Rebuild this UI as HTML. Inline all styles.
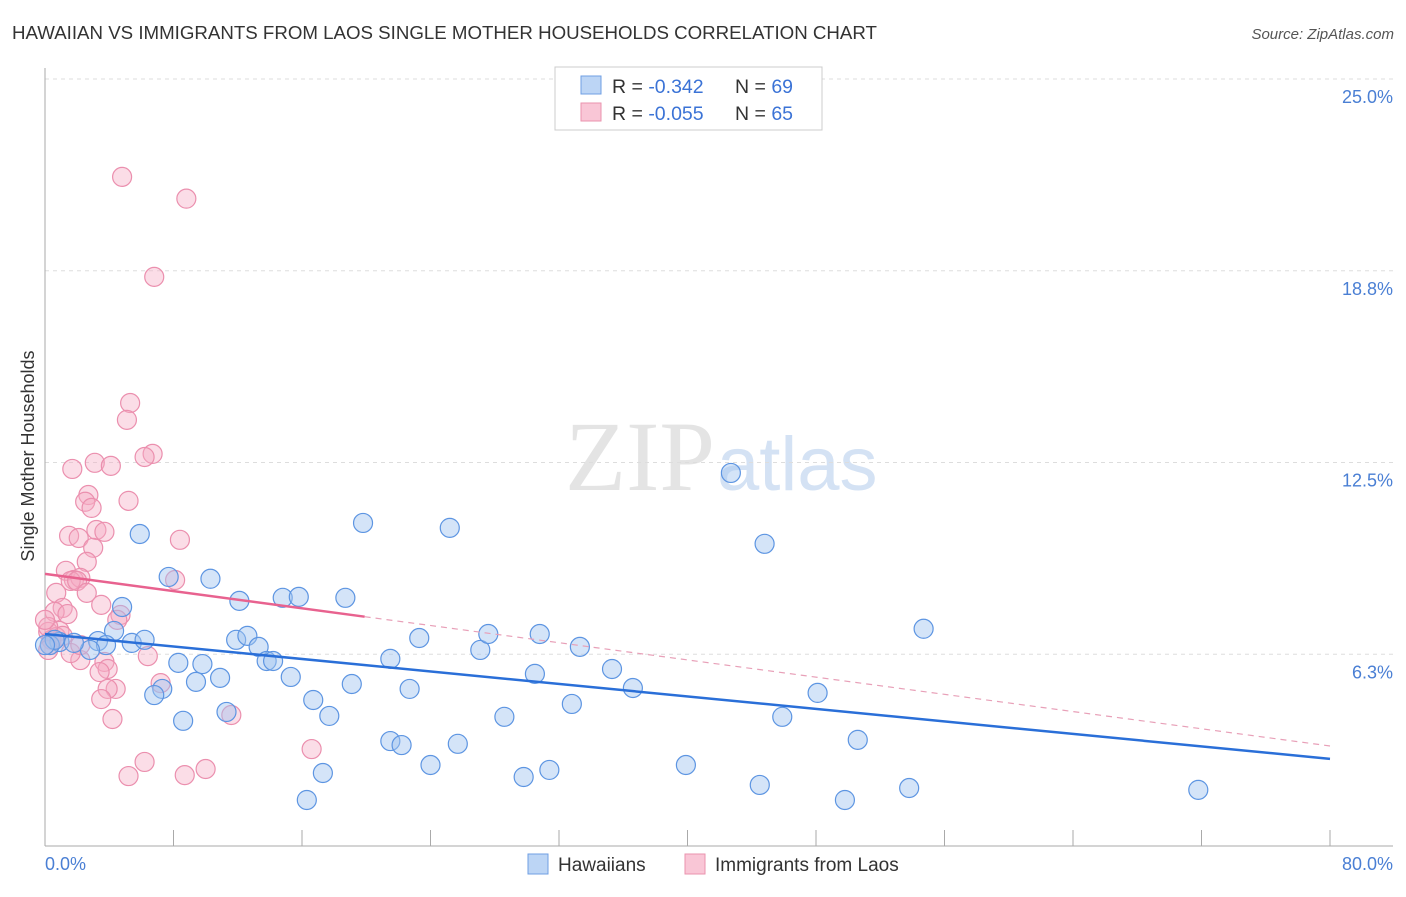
<!DOCTYPE html>
<html><head><meta charset="utf-8"><style>
body{margin:0;background:#fff;font-family:"Liberation Sans",sans-serif;}
</style></head><body>
<svg id="chart" width="1406" height="892" xmlns="http://www.w3.org/2000/svg">
<text x="12" y="39" font-size="18.7" fill="#333">HAWAIIAN VS IMMIGRANTS FROM LAOS SINGLE MOTHER HOUSEHOLDS CORRELATION CHART</text>
<text x="1394" y="39" font-size="15" fill="#555" font-style="italic" text-anchor="end">Source: ZipAtlas.com</text>
<text x="715" y="490" font-size="100" fill="#e4e4e4" font-family="Liberation Serif,serif" text-anchor="end">ZIP</text>
<text x="717" y="490" font-size="76" fill="#d4e2f4" text-anchor="start">atlas</text>
<g id="grid"></g><g id="axes"></g><g id="pink"></g><g id="blue"></g><g id="lines"></g>
<text transform="translate(34,456) rotate(-90)" font-size="18" fill="#333" text-anchor="middle">Single Mother Households</text>
<text x="45" y="870" font-size="18" fill="#4a7fd4">0.0%</text>
<text x="1393" y="870" font-size="18" fill="#4a7fd4" text-anchor="end">80.0%</text>
<g>
<rect x="555" y="67" width="267" height="63" fill="#fff" stroke="#ccc"/>
<rect x="581" y="76" width="20" height="18" fill="#bcd5f5" stroke="#6f9fe3"/>
<rect x="581" y="103" width="20" height="18" fill="#f9c6d6" stroke="#ea93ae"/>
<text x="612" y="93" font-size="19.5" fill="#333">R = <tspan fill="#3b73d6">-0.342</tspan></text>
<text x="735" y="93" font-size="19.5" fill="#333">N = <tspan fill="#3b73d6">69</tspan></text>
<text x="612" y="120" font-size="19.5" fill="#333">R = <tspan fill="#3b73d6">-0.055</tspan></text>
<text x="735" y="120" font-size="19.5" fill="#333">N = <tspan fill="#3b73d6">65</tspan></text>
</g>
<g>
<rect x="528" y="854" width="20" height="20" fill="#bcd5f5" stroke="#6f9fe3"/>
<text x="558" y="871" font-size="19" fill="#333">Hawaiians</text>
<rect x="685" y="854" width="20" height="20" fill="#f9c6d6" stroke="#ea93ae"/>
<text x="715" y="871" font-size="19" fill="#333">Immigrants from Laos</text>
</g>
</svg>
<script>
const yTicks=[6.25,12.5,18.75,25];
const yTickLabels=["6.3%","12.5%","18.8%","25.0%"];
const xTicks=[0,8,16,24,32,40,48,56,64,72,80];
const blueX=[5.9,7.7,10.3,4.8,4.3,3.3,5.4,6.2,3.8,2.8,0.9,0.3,0.6,1.8,8.3,9.8,9.4,10.9,7.3,6.8,8.6,11.3,12.1,11.9,12.6,13.3,13.8,14.2,14.8,15.8,15.3,16.7,17.7,17.3,16.3,18.7,19.8,19.1,21.5,22.2,21.5,23.3,22.7,24.0,25.2,25.7,27.1,27.6,28.6,29.8,30.5,30.8,31.4,32.8,33.3,35.3,36.6,39.9,42.7,44.5,44.8,45.9,48.1,49.8,50.6,53.8,54.7,71.8,0.0];
const blueY=[10.17,8.77,8.71,7.79,7.01,6.68,6.62,6.72,6.55,6.39,6.65,6.55,6.72,6.62,5.97,5.93,5.35,5.48,5.12,4.92,4.08,4.37,7.99,6.72,6.85,6.49,6.03,6.03,8.09,8.12,5.51,4.76,4.24,2.38,1.50,8.09,10.53,5.28,3.42,3.29,6.10,6.78,5.12,2.64,10.37,3.33,6.39,6.91,4.21,2.25,5.61,6.91,2.48,4.63,6.49,5.77,5.15,2.64,12.16,1.99,9.85,4.21,4.99,1.50,3.46,1.89,7.08,1.83,6.55];
const pinkX=[4.8,8.8,6.8,5.3,5.1,6.7,6.2,1.7,3.1,4.1,5.2,2.7,2.5,2.9,1.5,2.1,3.2,3.7,3.0,8.4,2.6,1.3,1.8,2.2,1.6,2.0,0.7,2.6,8.1,3.5,1.1,0.6,1.4,4.7,4.5,0.9,0.2,0.7,0.4,1.1,0.3,6.4,2.2,3.7,3.9,3.4,7.2,4.4,3.9,3.5,4.2,11.6,16.6,6.2,5.2,8.7,10.0,0.2,0.0,0.2,1.6,2.2];
const pinkY=[21.81,21.10,18.55,14.44,13.89,12.78,12.68,12.29,12.49,12.39,11.25,11.44,11.22,11.02,10.11,10.04,10.30,10.24,9.72,9.98,9.26,8.97,8.67,8.74,8.64,8.64,8.25,8.25,8.67,7.86,7.76,7.63,7.56,7.53,7.37,7.01,6.98,6.81,6.72,6.85,6.55,6.19,6.06,6.00,5.77,5.67,5.31,5.12,5.12,4.79,4.14,4.27,3.16,2.74,2.28,2.31,2.51,7.14,7.37,6.39,6.29,6.55];
const blueTrend=[6.91,2.84];
const pinkTrend=[8.87,3.26];
const pinkSolidEnd=19.9;
const NS="http://www.w3.org/2000/svg";
const X=v=>45+v/80*1285;
const Y=v=>846-v/25*767;
function mk(tag,parent,attrs){const e=document.createElementNS(NS,tag);for(const k in attrs)e.setAttribute(k,attrs[k]);document.getElementById(parent).appendChild(e);return e;}
yTicks.forEach((t,i)=>{
 const l=mk('line','grid',{x1:45,x2:1393,y1:Y(t),y2:Y(t),stroke:'#ddd','stroke-dasharray':'4,4'});
 
 
 const tx=mk('text','grid',{x:1393,y:Y(t)+24,'font-size':18,fill:'#4a7fd4','text-anchor':'end'});
 tx.textContent=yTickLabels[i];
 
 
});
const ya=mk('line','axes',{x1:45,x2:45,y1:68,y2:846,stroke:'#aaa'});


const xa=mk('line','axes',{x1:45,x2:1393,y1:846,y2:846,stroke:'#aaa'});


xTicks.forEach(t=>{
 const l=mk('line','axes',{x1:X(t),x2:X(t),y1:830,y2:846,stroke:'#aaa'});
 
 
});
pinkX.forEach((v,i)=>{
 const c=mk('circle','pink',{cx:X(v),cy:Y(pinkY[i]),r:9.5,fill:'rgba(246,170,196,0.4)',stroke:'#eb8fae','stroke-width':1.2});
 
 
});
blueX.forEach((v,i)=>{
 const c=mk('circle','blue',{cx:X(v),cy:Y(blueY[i]),r:9.5,fill:'rgba(160,196,240,0.45)',stroke:'#5d95e2','stroke-width':1.2});
 
 
});
const pAt=x=>pinkTrend[0]+(pinkTrend[1]-pinkTrend[0])*x/80;
const bl=mk('line','lines',{x1:X(0),y1:Y(blueTrend[0]),x2:X(80),y2:Y(blueTrend[1]),stroke:'#2a6fd8','stroke-width':2.5});


const ps=mk('line','lines',{x1:X(0),y1:Y(pAt(0)),x2:X(pinkSolidEnd),y2:Y(pAt(pinkSolidEnd)),stroke:'#e8628f','stroke-width':2.5});


const pd=mk('line','lines',{x1:X(pinkSolidEnd),y1:Y(pAt(pinkSolidEnd)),x2:X(80),y2:Y(pAt(80)),stroke:'#e8a0b8','stroke-width':1.2,'stroke-dasharray':'6,5'});


</script>
</body></html>
